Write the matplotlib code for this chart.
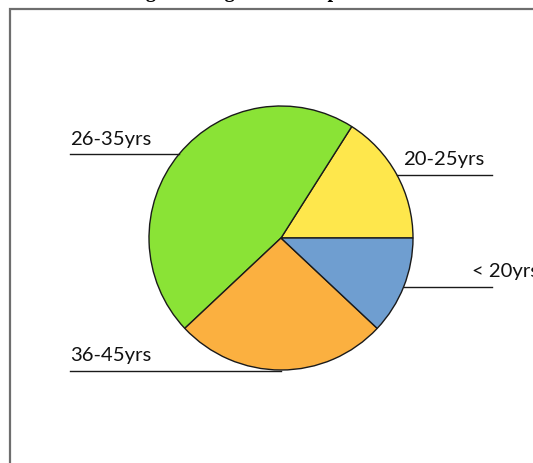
import numpy as np
import matplotlib

matplotlib.use("Agg")
import matplotlib.pyplot as plt
from matplotlib.patches import Rectangle

# Age distribution of respondents (percent), drawn counter-clockwise from 3 o'clock
age_groups = ["20-25yrs", "26-35yrs", "36-45yrs", "< 20yrs"]
shares = [16, 46, 26, 12]
slice_colors = ["#FEE74C", "#8AE336", "#FBB040", "#6F9ED0"]

W, H = 533, 464
fig = plt.figure(figsize=(W / 100, H / 100), dpi=100)
ax = fig.add_axes([0, 0, 1, 1])

cx, cy, r = 281, H - 239, 132
ax.pie(
    shares, colors=slice_colors, startangle=0, counterclock=True,
    center=(cx, cy), radius=r, frame=True,
    wedgeprops=dict(edgecolor="#1a1a1a", linewidth=1.0),
)
ax.set_xlim(0, W)
ax.set_ylim(0, H)
ax.set_aspect("equal")
ax.axis("off")

# label layout: (line y from top, outer end of line, text x, side)
layout = {
    "20-25yrs": (175.7, 492, 403, 1),
    "26-35yrs": (155.0, 70, 70, -1),
    "36-45yrs": (371.5, 70, 70, -1),
    "< 20yrs": (288.0, 492, 472, 1),
}

for name in age_groups:
    ly, x_end, tx, side = layout[name]
    y = H - ly
    dy = y - cy
    dx = np.sqrt(max(r**2 - dy**2, 0.0))
    x_start = cx + side * dx
    if name == "36-45yrs":
        x_start = cx
    ax.plot([x_start, x_end], [y, y], color="#1a1a1a", lw=1.0, zorder=1)
    ax.text(tx, y + 10.5, name, ha="left", va="baseline",
            fontsize=14.6, family="Lato", color="#111111")

# frame around the chart area
ax.add_patch(Rectangle((9.5, -20), 700, (H - 9.5) + 20, fill=False,
                       edgecolor="#6e6e6e", lw=1.6, zorder=0))

fig.text(0.5, 1 + 3.5 / H, "Figure 1: Age of the respondents",
         ha="center", va="baseline", family="Liberation Serif",
         fontweight="bold", fontsize=14.5)

fig.savefig("out.png", dpi=100)
